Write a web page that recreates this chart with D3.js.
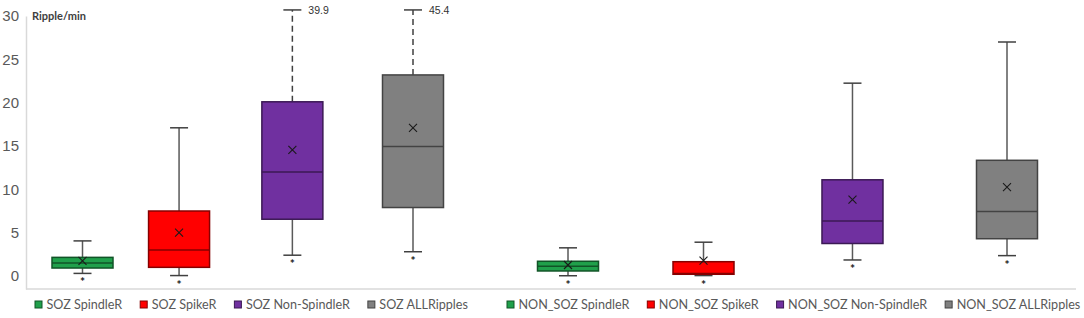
<!DOCTYPE html>
<html>
<head>
<meta charset="utf-8">
<script src="https://cdn.jsdelivr.net/npm/d3@7"></script>
<style>
  body { margin: 0; background: #fff; }
  svg { display: block; font-family: Lato, "Open Sans", sans-serif; }
</style>
</head>
<body>
<svg id="chart"></svg>
<script>
// box plot values (ripples per minute)
const groups = ["SOZ", "NON_SOZ"];
const types = ["SpindleR", "SpikeR", "Non-SpindleR", "ALLRipples"];
const colors = ["#20a04b", "#ff0000", "#7030a0", "#808080"];

// index = group * 4 + type
const whiskerLow  = [0.3, 0.05, 2.4, 2.8, 0.03, 0.05, 1.85, 2.35];
const q1          = [0.92, 1.0, 6.55, 7.9, 0.58, 0.2, 3.75, 4.3];
const median      = [1.5, 3.0, 12.0, 14.95, 1.12, 0.3, 6.35, 7.45];
const q3          = [2.15, 7.5, 20.1, 23.2, 1.7, 1.65, 11.1, 13.35];
const whiskerHigh = [4.05, 17.1, 39.9, 45.4, 3.25, 3.9, 22.25, 27.0];
const means       = [1.75, 5.0, 14.55, 17.1, 1.27, 1.77, 8.8, 10.25];

const yTicks = [0, 5, 10, 15, 20, 25, 30];
const yMax = 30;

const W = 1084, H = 318;
const svg = d3.select("#chart").attr("width", W).attr("height", H);

const y = d3.scaleLinear().domain([-1.5, 30]).range([289, 16]);
// boxes are spread a bit wider towards the right in each half
const xByGroup = {
    "SOZ": d3.scalePow().exponent(1.12).domain([0, 3]).range([82.5, 413]),
    "NON_SOZ": d3.scalePow().exponent(1.07).domain([0, 3]).range([568, 1007])
};
const boxW = 61, capW = 18;
const clipTop = 30.7; // whiskers running off the top get cut here

const rows = [];
groups.forEach((g, gi) => types.forEach((t, ti) => {
    const i = gi * 4 + ti;
    rows.push({
        name: g + " " + t, group: g, type: t, ti: ti, color: colors[ti],
        lo: whiskerLow[i], q1: q1[i], med: median[i], q3: q3[i],
        hi: whiskerHigh[i], mean: means[i]
    });
}));
const cx = d => xByGroup[d.group](d.ti);

// axes
const yAxis = svg.append("g")
    .attr("transform", "translate(26,0)")
    .call(d3.axisLeft(y).tickValues(yTicks).tickSize(0).tickPadding(7).tickFormat(d3.format("d")));
yAxis.select(".domain").attr("stroke", "#d9d9d9").attr("stroke-width", 1.5);
yAxis.selectAll("text")
    .style("font-size", "15px")
    .attr("fill", "#595959");

svg.append("line")
    .attr("x1", 26).attr("x2", 1076)
    .attr("y1", y(-1.5)).attr("y2", y(-1.5))
    .attr("stroke", "#d9d9d9").attr("stroke-width", 1.5);

svg.append("text")
    .attr("x", 32).attr("y", 19.5)
    .style("font-size", "11px").style("font-weight", "bold")
    .attr("fill", "#404040")
    .text("Ripple/min");

const box = svg.selectAll(".box").data(rows).enter().append("g").attr("class", "box");

// upper whisker (dashed when it runs off the chart)
box.append("line")
    .attr("x1", cx).attr("x2", cx)
    .attr("y1", d => y(d.q3))
    .attr("y2", d => y(Math.min(d.hi, clipTop)))
    .attr("stroke", d => d.hi > yMax ? "#404040" : "#595959")
    .attr("stroke-width", 1.5)
    .attr("stroke-dasharray", d => d.hi > yMax ? "6,4" : null);
box.append("line")
    .attr("x1", d => cx(d) - capW / 2).attr("x2", d => cx(d) + capW / 2)
    .attr("y1", d => y(Math.min(d.hi, clipTop))).attr("y2", d => y(Math.min(d.hi, clipTop)))
    .attr("stroke", "#404040").attr("stroke-width", 1.5);

// lower whisker
box.append("line")
    .attr("x1", cx).attr("x2", cx)
    .attr("y1", d => y(d.q1)).attr("y2", d => y(d.lo))
    .attr("stroke", "#595959").attr("stroke-width", 1.5);
box.append("line")
    .attr("x1", d => cx(d) - capW / 2).attr("x2", d => cx(d) + capW / 2)
    .attr("y1", d => y(d.lo)).attr("y2", d => y(d.lo))
    .attr("stroke", "#404040").attr("stroke-width", 1.5);

// box + median
box.append("rect")
    .attr("x", d => cx(d) - boxW / 2)
    .attr("width", boxW)
    .attr("y", d => y(d.q3))
    .attr("height", d => y(d.q1) - y(d.q3))
    .attr("fill", d => d.color)
    .attr("stroke", d => d3.color(d.color).darker(1.8))
    .attr("stroke-width", 1.5);
box.append("line")
    .attr("x1", d => cx(d) - boxW / 2).attr("x2", d => cx(d) + boxW / 2)
    .attr("y1", d => y(d.med)).attr("y2", d => y(d.med))
    .attr("stroke", d => d3.color(d.color).darker(1.8))
    .attr("stroke-width", 1.5);

// mean marker
box.append("path")
    .attr("transform", d => `translate(${cx(d)},${y(d.mean)})`)
    .attr("d", "M-4,-4L4,4M-4,4L4,-4")
    .attr("stroke", "#1a1a1a").attr("stroke-width", 1.1)
    .attr("fill", "none");

// asterisk under each box
box.append("text")
    .attr("x", cx)
    .attr("y", d => y(d.lo) + 13)
    .attr("text-anchor", "middle")
    .style("font-size", "12px").style("font-weight", "bold")
    .attr("fill", "#1a1a1a")
    .text("*");

// values of the whiskers that were cut
box.filter(d => d.hi > yMax).append("text")
    .attr("x", d => cx(d) + 16)
    .attr("y", d => y(clipTop) + 4)
    .style("font-family", "'Liberation Sans', Arial, sans-serif")
    .style("font-size", "10.5px")
    .attr("fill", "#333")
    .text(d => d.hi);

// legends, one per group
const legendStart = { "SOZ": 35, "NON_SOZ": 507 };
groups.forEach(g => {
    let lx = legendStart[g];
    rows.filter(d => d.group === g).forEach(d => {
        const item = svg.append("g").attr("transform", `translate(${lx},0)`);
        item.append("rect")
            .attr("x", 0).attr("y", 301)
            .attr("width", 7).attr("height", 7)
            .attr("fill", d.color)
            .attr("stroke", d3.color(d.color).darker(1.8))
            .attr("stroke-width", 1);
        const t = item.append("text")
            .attr("x", 11.5).attr("y", 308.5)
            .style("font-size", "12.6px")
            .attr("fill", "#595959")
            .text(d.name);
        lx += 11.5 + t.node().getComputedTextLength() + 18;
    });
});
</script>
</body>
</html>
